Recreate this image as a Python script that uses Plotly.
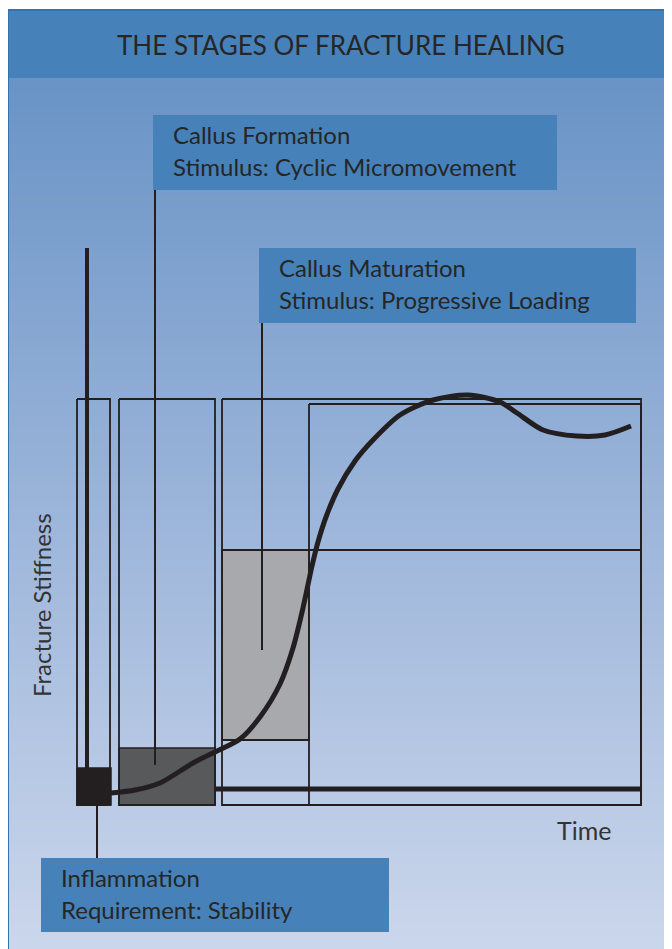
import numpy as np
import plotly.graph_objects as go

# ---------------- data (pixel-space diagram coordinates) ----------------
title_text = "THE STAGES OF FRACTURE HEALING"
y_label = "Fracture Stiffness"
x_label = "Time"

# healing curve: fracture stiffness over time
curve_x = [111, 135, 160, 193, 215, 240, 260, 280, 293, 303, 312, 318, 326, 338, 355,
           373, 400, 433, 468, 500, 517, 543, 577, 605, 631]
curve_y = [793, 790, 783, 763, 752, 739, 717, 684, 648, 608, 566, 542, 517, 489, 461,
           440, 415, 400, 395, 402, 413, 430, 436, 435, 426]

# stage frames [x0, x1, y0, y1]
stage_frames = [
    [77, 110, 399, 805],   # inflammation column
    [119, 215, 399, 805],  # callus formation column
    [222, 641, 399, 805],  # callus maturation column
    [309, 641, 404, 805],  # remodelling column
]
# filled blocks [x0, x1, y0, y1, colour]
stage_fills = [
    [77, 111, 768, 805, "#231f20"],
    [119, 215, 748, 805, "#58595b"],
    [222, 309, 550, 740, "#a7a9ac"],
]
# horizontal divider [x0, x1, y]
dividers = [[222, 641, 550], [222, 309, 740]]
baseline = [215, 641, 789]
stiff_axis = [87, 248, 770]

# callouts: [x0, x1, y0, y1, line1, line2, leader_x, leader_y0, leader_y1]
callouts = [
    [153, 557, 115, 190, "Callus Formation", "Stimulus: Cyclic Micromovement", 155, 190, 765],
    [259, 636, 248, 323, "Callus Maturation", "Stimulus: Progressive Loading", 262, 323, 650],
    [41, 389, 858, 932, "Inflammation", "Requirement: Stability", 97, 805, 858],
]

INK = "#231f20"
BLUE = "#4682b9"
FONT = "Lato"
PAGE_OFFSET = 8  # default body margin of the html page

fig = go.Figure()

# background gradient
rows = np.linspace(78, 949, 60)
fig.add_trace(go.Heatmap(
    x=[8, 672], y=rows, z=[[v] for v in rows[:-1]],
    colorscale=[[0, "#6a94c6"], [0.5, "#9cb5da"], [1, "#cad6eb"]],
    showscale=False, hoverinfo="skip", zsmooth="best"))


def rect(x0, x1, y0, y1, fill=None, line_color=INK, lw=1.8):
    fig.add_trace(go.Scatter(
        x=[x0, x1, x1, x0, x0], y=[y0, y0, y1, y1, y0], mode="lines",
        fill="toself" if fill else None, fillcolor=fill,
        line=dict(color=line_color, width=lw), hoverinfo="skip", showlegend=False))


def seg(xs, ys, lw=1.8, color=INK):
    fig.add_trace(go.Scatter(x=xs, y=ys, mode="lines", line=dict(color=color, width=lw),
                             hoverinfo="skip", showlegend=False))


# title bar and frame borders
rect(8, 672, 10, 78, fill=BLUE, line_color=BLUE, lw=0)
seg([8, 8], [10, 949], lw=2, color="#2f74b5")
seg([8, 672], [10, 10], lw=2, color="#2f74b5")

for x0, x1, y0, y1, c in stage_fills:
    rect(x0, x1, y0, y1, fill=c, line_color=INK, lw=1.5)
for x0, x1, y0, y1 in stage_frames:
    rect(x0, x1, y0, y1)
for x0, x1, y in dividers:
    seg([x0, x1], [y, y])
seg([baseline[0], baseline[1]], [baseline[2], baseline[2]], lw=5)
seg([stiff_axis[0], stiff_axis[0]], [stiff_axis[1], stiff_axis[2]], lw=4)

# callouts
for x0, x1, y0, y1, l1, l2, lx, ly0, ly1 in callouts:
    rect(x0, x1, y0, y1, fill=BLUE, line_color=BLUE, lw=0)
    seg([lx, lx], [ly0, ly1], lw=2)
    fig.add_annotation(x=x0 + 18, y=y0 + 19, text=l1, xref="x", yref="y",
                       xanchor="left", yanchor="middle", showarrow=False,
                       font=dict(family=FONT, size=24, color="#262626"))
    fig.add_annotation(x=x0 + 18, y=y0 + 51, text=l2, xref="x", yref="y",
                       xanchor="left", yanchor="middle", showarrow=False,
                       font=dict(family=FONT, size=24, color="#262626"))

# healing curve
fig.add_trace(go.Scatter(x=curve_x, y=curve_y, mode="lines", line_shape="spline",
                         line=dict(color=INK, width=5, smoothing=0.8),
                         hoverinfo="skip", showlegend=False))

fig.add_annotation(x=341, y=45, text=title_text, xref="x", yref="y", showarrow=False,
                   xanchor="center", yanchor="middle",
                   font=dict(family=FONT, size=26, color="#262626"))
fig.add_annotation(x=584, y=830, text=x_label, xref="x", yref="y", showarrow=False,
                   xanchor="center", yanchor="middle",
                   font=dict(family=FONT, size=25, color="#333333"))
fig.add_annotation(x=41, y=605, text=y_label, xref="x", yref="y", showarrow=False,
                   textangle=-90, xanchor="center", yanchor="middle",
                   font=dict(family=FONT, size=24, color="#333333"))

fig.update_layout(
    width=672 - PAGE_OFFSET, height=949 - PAGE_OFFSET,
    margin=dict(l=0, r=0, t=0, b=0),
    paper_bgcolor="white", plot_bgcolor="white", showlegend=False,
    xaxis=dict(range=[PAGE_OFFSET, 672], visible=False, fixedrange=True),
    yaxis=dict(range=[949, PAGE_OFFSET], visible=False, fixedrange=True),
)

fig.write_html("out.html")
